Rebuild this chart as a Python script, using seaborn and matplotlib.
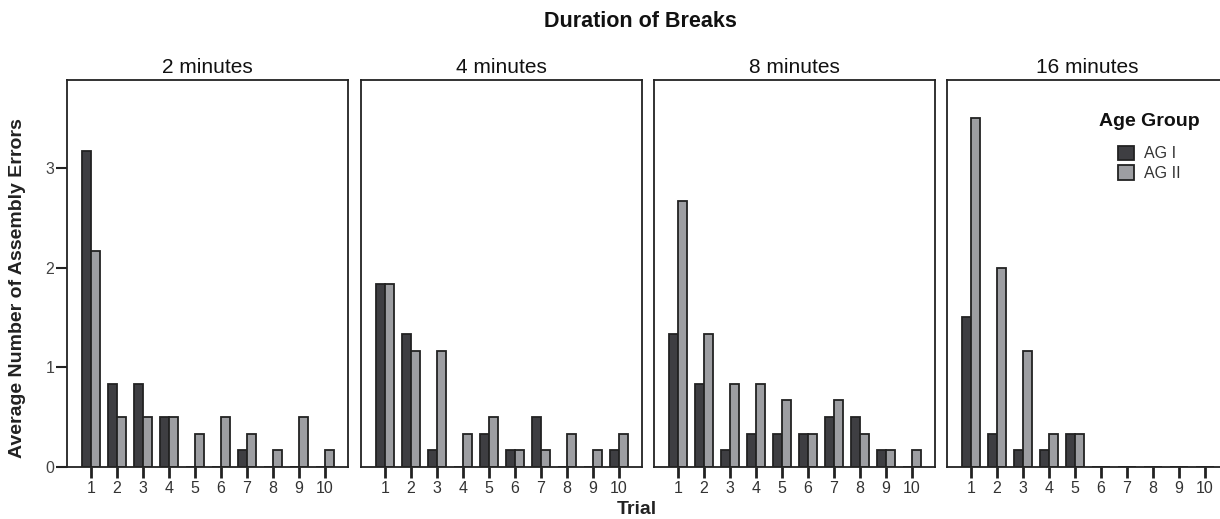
import numpy as np
import pandas as pd
import matplotlib
matplotlib.use("Agg")
import matplotlib.pyplot as plt
import seaborn as sns

# veriler
trials = ["1", "2", "3", "4", "5", "6", "7", "8", "9", "10"]
breaks = ["2 minutes", "4 minutes", "8 minutes", "16 minutes"]
groups = ["AG I", "AG II"]

ag1_2min = [3.167, 0.833, 0.833, 0.5, 0, 0, 0.167, 0, 0, 0]
ag2_2min = [2.167, 0.5, 0.5, 0.5, 0.333, 0.5, 0.333, 0.167, 0.5, 0.167]
ag1_4min = [1.833, 1.333, 0.167, 0, 0.333, 0.167, 0.5, 0, 0, 0.167]
ag2_4min = [1.833, 1.167, 1.167, 0.333, 0.5, 0.167, 0.167, 0.333, 0.167, 0.333]
ag1_8min = [1.333, 0.833, 0.167, 0.333, 0.333, 0.333, 0.5, 0.5, 0.167, 0]
ag2_8min = [2.667, 1.333, 0.833, 0.833, 0.667, 0.333, 0.667, 0.333, 0.167, 0.167]
ag1_16min = [1.5, 0.333, 0.167, 0.167, 0.333, 0, 0, 0, 0, 0]
ag2_16min = [3.5, 2.0, 1.167, 0.333, 0.333, 0, 0, 0, 0, 0]

series = {
    "2 minutes": (ag1_2min, ag2_2min),
    "4 minutes": (ag1_4min, ag2_4min),
    "8 minutes": (ag1_8min, ag2_8min),
    "16 minutes": (ag1_16min, ag2_16min),
}

rows = []
for b in breaks:
    for g, vals in zip(groups, series[b]):
        for t, v in zip(trials, vals):
            rows.append({"Break": b, "Age Group": g, "Trial": t, "Errors": v})
df = pd.DataFrame(rows)

sns.set_theme(style="ticks")
plt.rcParams["font.family"] = ["Liberation Sans", "DejaVu Sans"]

colors = {"AG I": "#3e3e42", "AG II": "#9d9ea2"}
edge = "#222222"

fig = plt.figure(figsize=(12.2, 5.19), dpi=100)
W, H = 1220, 519
ax_w = 281 / W
ax_b = 1 - 467 / H
ax_h = (467 - 80) / H
lefts = [67, 361, 654, 947]

axes = []
for i, b in enumerate(breaks):
    ax = fig.add_axes([lefts[i] / W, ax_b, ax_w, ax_h])
    axes.append(ax)
    sub = df[df["Break"] == b]
    sns.barplot(data=sub, x="Trial", y="Errors", hue="Age Group", order=trials,
                hue_order=groups, palette=colors, width=0.7, edgecolor=edge,
                linewidth=1.3, saturation=1, ax=ax, legend=(i == 3))
    ax.set_xlim(-0.93, 9.89)
    ax.set_ylim(0, 3.88)
    ax.set_title(b, fontsize=15, pad=5, color="#111111")
    ax.set_xlabel("")
    ax.set_ylabel("")
    for s in ax.spines.values():
        s.set_visible(True)
        s.set_color("#222222")
        s.set_linewidth(1.3)
    ax.tick_params(axis="x", length=8, width=2, color="#222222",
                   labelsize=11.5, labelcolor="#333333", pad=2)
    if i == 0:
        ax.set_yticks([0, 1, 2, 3])
        ax.tick_params(axis="y", length=8, width=1.5, color="#222222",
                       labelsize=11.5, labelcolor="#444444", pad=1)
        ax.set_ylabel("Average Number of Assembly Errors", fontsize=14,
                      fontweight="bold", color="#222222")
        ax.yaxis.set_label_coords(-0.146, 0.4625)
    else:
        ax.set_yticks([])

# lejant (legend)
ax4 = axes[3]
ax4.get_legend().remove()
handles, labels = ax4.get_legend_handles_labels()
leg = ax4.legend(handles, labels, title="Age Group", loc="upper left",
                 bbox_to_anchor=(0.54, 0.914), frameon=False, fontsize=11.5,
                 title_fontproperties={"weight": "bold", "size": 14},
                 alignment="center", handlelength=1.05, handleheight=1.05,
                 handletextpad=0.6, labelspacing=0.25, borderpad=0,
                 borderaxespad=0)
for t in leg.get_texts():
    t.set_color("#333333")
leg._legend_title_box._text.set_color("#111111")
leg._legend_box.sep = 11  # baslik ile girisler arasi bosluk

fig.text(640 / W, 1 - 22 / H, "Duration of Breaks", ha="center", va="center",
         fontsize=15.5, fontweight="bold", color="#111111")
fig.text(637 / W, 1 - 510 / H, "Trial", ha="center", va="center",
         fontsize=14, fontweight="bold", color="#222222")

fig.savefig("out.png", dpi=100)
